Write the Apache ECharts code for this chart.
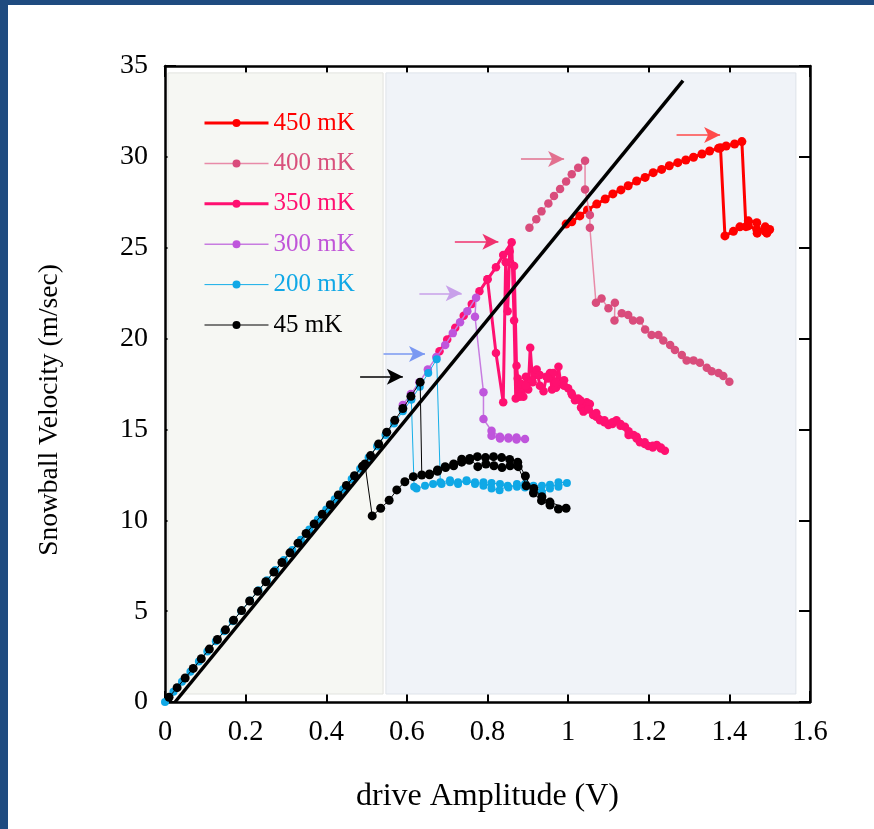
<!DOCTYPE html>
<html><head><meta charset="utf-8">
<script src="https://cdn.jsdelivr.net/npm/echarts@6/dist/echarts.min.js"></script>
<style>
html,body{margin:0;padding:0;background:#fff;}
#c{position:absolute;left:0;top:0;width:874px;height:829px;}
.bt{position:absolute;left:0;top:0;width:874px;height:5px;background:#1f4b80;}
.bl{position:absolute;left:0;top:0;width:8px;height:829px;background:#1f4b80;}
</style></head><body>
<div id="c"></div><div class="bt"></div><div class="bl"></div>
<script>
// ---- data ----
var seriesNames = ['450 mK','400 mK','350 mK','300 mK','200 mK','45 mK'];
var xTicks = [0,0.2,0.4,0.6,0.8,1,1.2,1.4,1.6];
var yTicks = [0,5,10,15,20,25,30,35];

var s45 = [[0.01,0.26],[0.03,0.79],[0.05,1.32],[0.07,1.85],[0.09,2.38],[0.11,2.91],[0.13,3.44],[0.15,3.97],[0.17,4.50],[0.19,5.03],[0.21,5.56],[0.23,6.09],[0.25,6.62],[0.27,7.15],[0.29,7.68],[0.31,8.21],[0.33,8.74],[0.35,9.27],[0.37,9.80],[0.39,10.33],[0.41,10.86],[0.43,11.39],[0.45,11.92],[0.47,12.45],[0.49,12.98],[0.51,13.56],[0.53,14.2],[0.55,14.85],[0.57,15.5],[0.59,16.15],[0.61,16.82],[0.633,17.6],
 [0.637,12.49],[0.656,12.55],[0.676,12.77],[0.695,12.95],[0.716,13.1],[0.736,13.36],[0.755,13.3],[0.775,13.5],[0.795,13.45],[0.815,13.5],[0.835,13.45],[0.855,13.35],[0.875,13.2],[0.894,12.44],[0.914,11.5],[0.934,11.08],[0.955,10.84],[0.976,10.62],[0.995,10.66],
 [0.955,11.0],[0.935,11.3],[0.915,11.75],[0.896,11.9],[0.876,12.95],[0.856,13.0],[0.836,12.9],[0.816,13.0],[0.796,13.1],[0.776,12.95],[0.756,13.4],[0.736,13.2],[0.716,13.0],[0.696,12.9],[0.676,12.7],[0.656,12.5],[0.616,12.4],[0.595,12.12],[0.575,11.67],[0.556,11.1],[0.535,10.66],[0.514,10.24],[0.496,13.1]];

var s200 = [[0,0],[0.021,0.56],[0.042,1.11],[0.063,1.67],[0.084,2.23],[0.105,2.78],[0.126,3.34],[0.147,3.90],[0.168,4.45],[0.189,5.01],[0.211,5.59],[0.232,6.15],[0.253,6.70],[0.274,7.26],[0.295,7.82],[0.316,8.37],[0.337,8.93],[0.358,9.49],[0.379,10.04],[0.400,10.60],[0.421,11.16],[0.442,11.71],[0.463,12.27],[0.484,12.83],[0.505,13.45],[0.526,14.07],[0.547,14.7],[0.568,15.33],[0.590,16.0],[0.611,16.65],[0.632,17.35],[0.653,18.1],[0.674,18.86],
 [0.683,12.1],[0.707,12.2],[0.727,12.1],[0.748,12.15],[0.769,12.0],[0.79,12.1],[0.81,11.75],[0.83,11.65],[0.85,11.9],[0.873,11.85],[0.893,12.0],[0.914,11.65],[0.935,11.9],[0.955,11.95],[0.976,11.85],[0.997,12.05],
 [0.976,12.1],[0.955,11.75],[0.935,11.55],[0.914,11.9],[0.893,11.8],[0.873,12.0],[0.852,11.8],[0.831,12.0],[0.81,12.05],[0.79,11.9],[0.769,12.1],[0.748,12.2],[0.727,12.0],[0.707,12.1],[0.686,12.0],[0.665,12.0],[0.645,11.9],[0.624,11.75],[0.618,11.85],[0.611,16.65]];

var s300 = [[0.59,16.35],[0.61,16.95],[0.631,17.6],[0.652,18.3],[0.673,18.98],[0.695,19.65],[0.714,20.3],[0.732,20.9],[0.75,21.5],[0.7716,22.25],[0.769,21.2],[0.79,17.05],[0.79,15.57],[0.81,14.93],[0.831,14.6],[0.852,14.5],[0.872,14.55],[0.893,14.47],[0.872,14.45],[0.852,14.55],[0.831,14.5],[0.81,14.65]];

var s350 = [[0.681,19.3],[0.70,19.95],[0.72,20.6],[0.741,21.25],[0.761,21.9],[0.78,22.6],[0.80,23.26],[0.821,23.92],[0.839,24.6],[0.86,25.3],
 [0.866,21.0],[0.87,16.7],[0.875,17.8],[0.879,16.9],[0.884,17.5],[0.889,16.8],[0.895,17.9],[0.901,17.2],[0.906,19.5],[0.912,17.6],[0.917,18.0],[0.922,18.3],[0.93,17.4],[0.939,17.1],[0.946,17.9],[0.955,18.1],[0.96,17.2],[0.963,18.1],[0.97,17.3],[0.976,18.45],[0.982,17.5],[0.99,17.7],[1.0,17.26],[1.008,17.0],[1.017,16.6],[1.025,16.7],[1.032,16.2],[1.038,15.98],[1.046,16.5],[1.054,16.4],[1.062,15.8],[1.07,15.7],[1.079,15.5],[1.09,15.4],[1.1,15.24],[1.11,15.3],[1.12,15.5],[1.13,15.2],[1.141,15.15],[1.15,14.7],[1.162,14.7],[1.17,14.5],[1.178,14.3],[1.19,14.2],[1.199,14.09],[1.21,14.0],[1.22,14.14],[1.23,13.95],[1.24,13.83],
 [1.23,14.0],[1.21,14.1],[1.19,14.3],[1.17,14.6],[1.15,14.9],[1.13,15.3],[1.11,15.4],[1.09,15.5],[1.07,15.9],[1.05,16.1],[1.03,16.6],[1.01,16.9],[0.99,17.4],[0.97,17.6],[0.95,17.8],[0.93,18.0],[0.91,17.7],[0.895,17.4],[0.88,16.8],[0.872,18.5],[0.866,24.0],[0.855,24.8],[0.85,21.5],[0.845,24.2],[0.839,16.5],[0.821,19.2],[0.80,23.26]];

var s400 = [[0.904,26.1],[0.921,26.56],[0.934,27.0],[0.951,27.44],[0.965,27.85],[0.98,28.23],[0.995,28.64],[1.009,29.04],[1.025,29.4],[1.042,29.78],[1.042,28.2],[1.054,26.8],[1.054,26.1],[1.069,21.97],[1.083,22.2],[1.1,21.67],[1.116,21.97],[1.115,21.0],[1.133,21.4],[1.149,21.3],[1.161,21.0],[1.178,21.0],[1.191,20.5],[1.207,20.2],[1.224,20.2],[1.236,19.9],[1.253,19.65],[1.265,19.37],[1.282,19.1],[1.294,18.8],[1.311,18.8],[1.327,18.67],[1.344,18.4],[1.356,18.2],[1.373,18.1],[1.385,17.94],[1.4,17.63]];

var s450 = [[0.995,26.3],[1.009,26.43],[1.029,26.75],[1.048,27.08],[1.071,27.4],[1.092,27.68],[1.111,27.96],[1.131,28.18],[1.149,28.41],[1.17,28.67],[1.191,28.87],[1.211,29.13],[1.232,29.31],[1.251,29.51],[1.272,29.68],[1.292,29.83],[1.311,29.98],[1.332,30.16],[1.351,30.32],[1.373,30.47],[1.392,30.6],[1.413,30.71],[1.431,30.84],
 [1.441,26.16],[1.447,26.48],[1.468,26.38],[1.469,25.8],[1.489,26.15],[1.493,25.8],[1.5,26.0],
 [1.489,25.9],[1.468,26.0],[1.447,26.2],[1.426,26.15],[1.41,25.9],[1.389,25.65],[1.378,30.5]];

var fitLine = [[0.025,0],[1.285,34.2]];

// critical-velocity arrows: [xStart, xEnd, y]
var arrows = [[1.269,1.377,31.2],[0.883,0.990,29.88],[0.719,0.827,25.33],[0.631,0.736,22.49],[0.542,0.645,19.15],[0.484,0.590,17.9]];

var lineColors = ['#ff0000','#e88aa8','#ff1070','#c77ce0','#14aee8','#000000'];
var dotColors  = ['#ff0000','#d94c7c','#ff1070','#bf55dc','#10a8e6','#000000'];
var textColors = ['#ff0000','#d9507c','#ff1070','#c055d8','#10a8e6','#000000'];
var arrowColors= ['#ff4a4a','#e2708f','#f0306e','#c8a0ea','#7a98f2','#000000'];
var lineWidths = [3,1.5,3,1.5,1,1];
var dotSizes   = [9,8.5,8.5,8.5,8,9];

// ---- chart ----
var FONT = "'Liberation Serif','Times New Roman',serif";
var chart = echarts.init(document.getElementById('c'), null, {renderer:'canvas'});
var dataSets = [s450,s400,s350,s300,s200,s45];

var series = [{
  type:'line', data:[], silent:true, z:1,
  markArea:{silent:true, label:{show:false}, data:[
    [{coord:[0.0074,0.44], itemStyle:{color:'#f6f7f3',borderColor:'#e2e3df',borderWidth:1}},{coord:[0.541,34.62]}],
    [{coord:[0.548,0.44], itemStyle:{color:'#f0f3f8',borderColor:'#dfe3ea',borderWidth:1}},{coord:[1.565,34.62]}]
  ]},
  markLine:{silent:true, symbol:['none','arrow'], symbolSize:[12,16], label:{show:false}, animation:false,
    data: arrows.map(function(a,i){return [{coord:[a[0],a[2]], lineStyle:{color:arrowColors[i],width:1.6,type:'solid'}},{coord:[a[1],a[2]]}];})
  }
}];
dataSets.forEach(function(d,i){
  series.push({
    name:seriesNames[i], type:'line', data:d, z:2+i,
    symbol:'circle', symbolSize:dotSizes[i], showSymbol:true,
    lineStyle:{color:lineColors[i], width:lineWidths[i]},
    itemStyle:{color:dotColors[i]},
    emphasis:{disabled:true}
  });
});
series.push({type:'line', data:fitLine, symbol:'none', z:20, lineStyle:{color:'#000',width:3.5}, silent:true});

var axisCommon = {
  axisLine:{show:true, onZero:false, lineStyle:{color:'#000', width:2.5}},
  axisTick:{show:true, inside:true, length:11, lineStyle:{color:'#000', width:2}},
  splitLine:{show:false}
};
function ax(extra){ return Object.assign({}, JSON.parse(JSON.stringify(axisCommon)), extra); }

chart.setOption({
  animation:false,
  backgroundColor:'#ffffff',
  grid:{left:165, right:64, top:66, bottom:127, containLabel:false},
  legend:{
    orient:'vertical', left:203, top:110.5, padding:0, itemWidth:64, itemHeight:10, itemGap:15.4,
    selectedMode:false,
    textStyle:{fontFamily:FONT, fontSize:25, lineHeight:25},
    data: seriesNames.map(function(n,i){return {name:n, textStyle:{color:textColors[i]}, lineStyle:{width:lineWidths[i], color:lineColors[i]}, itemStyle:{color:dotColors[i]}};})
  },
  xAxis:[
    ax({type:'value', position:'bottom', min:0, max:1.6, interval:0.2,
      name:'drive Amplitude (V)', nameLocation:'middle', nameGap:79,
      nameTextStyle:{fontFamily:FONT, fontSize:32, color:'#000'},
      axisLabel:{margin:16, fontFamily:FONT, fontSize:28.5, color:'#000',
        formatter:function(v){ var k = xTicks.findIndex(function(t){return Math.abs(t-v)<1e-6;}); return k>=0 ? String(xTicks[k]) : ''; }}}),
    ax({type:'value', position:'top', min:0, max:1.6, interval:0.2, axisLabel:{show:false}})
  ],
  yAxis:[
    ax({type:'value', position:'left', min:0, max:35, interval:5,
      name:'Snowball Velocity (m/sec)', nameLocation:'middle', nameGap:101,
      nameTextStyle:{fontFamily:FONT, fontSize:27.5, color:'#000', padding:[0,52,0,0]},
      axisLabel:{margin:17, fontFamily:FONT, fontSize:28, color:'#000', padding:[5,0,0,0],
        formatter:function(v){ var k = yTicks.indexOf(v); return k>=0 ? String(yTicks[k]) : ''; }}}),
    ax({type:'value', position:'right', min:0, max:35, interval:5, axisLabel:{show:false}})
  ],
  series:series
});
</script></body></html>
